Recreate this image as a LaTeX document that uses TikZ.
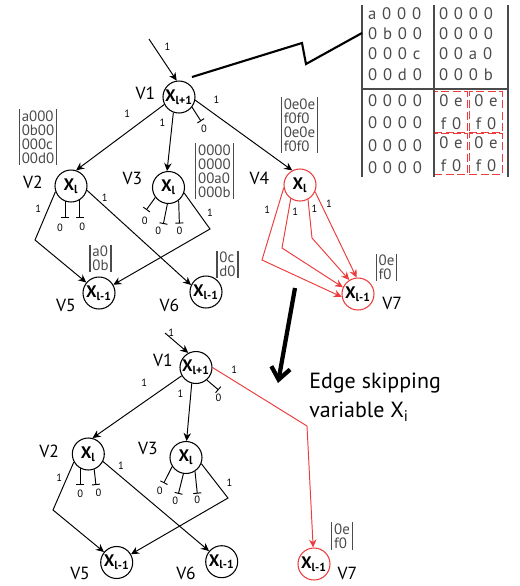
\documentclass[tikz,border=0pt]{standalone}
\usepackage{fontspec}
\setmainfont{PT Sans}
\newfontfamily\tabfont[LetterSpace=35]{PT Sans}
\usepackage{xcolor}
\usepackage{tikz}
\usetikzlibrary{arrows.meta,positioning}

\definecolor{skipred}{RGB}{236,60,60}
\definecolor{matgray}{RGB}{75,75,75}
\newcommand{\xv}[1]{\textbf{X}\textsubscript{\textbf{#1}}}

\begin{document}
\begin{tikzpicture}[
  x=0.2mm, y=-0.2mm,
  vnode/.style={draw,circle,line width=0.6pt,minimum size=6.4mm,inner sep=0pt,font=\fontsize{9.5}{10}\selectfont},
  skipnode/.style={vnode,draw=skipred},
  vlab/.style={inner sep=0pt,font=\fontsize{10}{12}\selectfont},
  elab/.style={inner sep=0.5pt,font=\fontsize{6}{7}\selectfont},
  mat/.style={inner xsep=1.2pt,inner ysep=0.5pt,align=left,text=matgray,font=\fontsize{8.5}{8}\selectfont},
  matbar/.style={draw=matgray,line width=0.7pt},
  arrow/.style={-{Stealth[length=1.6mm,width=1.5mm]}, line width=0.55pt},
  skiparrow/.style={arrow, draw=skipred},
  zero/.style={-{Bar[width=1.6mm]}, line width=0.55pt},
  tabtext/.style={inner sep=0pt,align=left,text=matgray,font=\tabfont\fontsize{9.5}{11.5}\selectfont},
  dbox/.style={draw=skipred,dash pattern=on 1.6mm off 0.7mm,line width=0.8pt,minimum width=6.6mm,minimum height=8.2mm,inner sep=0pt,align=center,text=matgray,font=\tabfont\fontsize{9.5}{13}\selectfont},
  tabline/.style={draw=matgray,line width=0.7pt},
  zig/.style={line width=1.2pt},
  bigarrow/.style={-{Straight Barb[length=2.4mm,width=3.8mm]}, line width=0.85mm},
  note/.style={inner sep=0pt,align=left,font=\fontsize{12.5}{17}\selectfont}
]
\useasboundingbox (0,0) rectangle (520,586);

% the table
\node[tabtext] (qa) at (395,44) {a000\\0b00\\000c\\00d0};
\node[tabtext] (qb) at (466,44) {0000\\0000\\00a0\\000b};
\node[tabtext, font=\tabfont\fontsize{9.5}{12.7}\selectfont] (qc) at (395,134) {0000\\0000\\0000\\0000};
\node[dbox] (qd1) at (451,112) {0e\\f0};
\node[dbox] (qd2) at (486,112) {0e\\f0};
\node[dbox] (qd3) at (451,154) {0e\\f0};
\node[dbox] (qd4) at (486,154) {0e\\f0};
\draw[tabline] (362,5) -- (362,177) (434,5) -- (434,177) (508,5) -- (508,177) (362,89) -- (508,89);

% upper diagram
\node[vnode] (t1) at (179,97) {\xv{l+1}};
\node[vnode] (t2) at (71,186) {\xv{l}};
\node[vnode] (t3) at (168.5,187.5) {\xv{l}};
\node[skipnode] (t4) at (300,185) {\xv{l}};
\node[vnode] (t5) at (99,293) {\xv{l-1}};
\node[vnode] (t6) at (206,292) {\xv{l-1}};
\node[skipnode] (t7) at (358,294) {\xv{l-1}};

\node[vlab, left=1.4mm of t1, yshift=0.8mm] (t1l) {V1};
\node[vlab, left=2.3mm of t2, yshift=0.8mm] (t2l) {V2};
\node[vlab, left=1.9mm of t3, yshift=1.9mm] (t3l) {V3};
\node[vlab, left=2.8mm of t4, yshift=1.4mm] (t4l) {V4};
\node[vlab, left=1.3mm of t5, yshift=-2.4mm] (t5l) {V5};
\node[vlab, left=2mm of t6, yshift=-2.6mm] (t6l) {V6};
\node[vlab, right=1.5mm of t7, yshift=-1.8mm] (t7l) {V7};

\node[mat] (t2m) at (38,137) {a000\\0b00\\000c\\00d0};
\node[mat] (t3m) at (214.5,171) {0000\\0000\\00a0\\000b};
\node[mat] (t4m) at (299.5,125) {0e0e\\f0f0\\0e0e\\f0f0};
\node[mat] (t5m) at (100.5,258.5) {a0\\0b};
\node[mat] (t6m) at (227.5,264.5) {0c\\d0};
\node[mat] (t7m) at (386.5,267.5) {0e\\f0};

\coordinate (tin) at (149,39);
\draw[arrow] (tin) -- node[elab,pos=0.19,right=1.8mm]{1} (t1.98);
\draw[arrow] (t1.-153) -- node[elab,pos=0.42,above=2.7mm]{1} (t2.72);
\draw[arrow] (t1.-110) -- node[elab,pos=0.17,left=1.1mm]{1} (t3.95);
\draw[arrow] (t1.-11) -- node[elab,pos=0.22,above=2.2mm]{1} (t4.118);
\draw[zero] (t1.-38) -- ++(9,14) node[elab,below=0.4mm,xshift=0.6mm]{0};

\draw[arrow] (t2.-160) -- node[elab,pos=0.36,left=1.1mm]{1} (35,240) -- (t5);
\draw[arrow] (t2.-15) -- node[elab,pos=0.17,above=0.7mm]{1} (t6.155);
\draw[zero] (t2.-111) -- ++(0,17) node[elab,below=0.8mm,xshift=-1mm]{0};
\draw[zero] (t2.-58) -- ++(0,18) node[elab,below=0.8mm,xshift=0.5mm]{0};

\draw[arrow] (t3.-19) -- node[elab,pos=0.55,right=1.5mm]{1} (210,229) -- (t5);
\draw[zero] (t3.-143) -- ++(-9,12.5) node[elab,below=1.2mm,xshift=-0.3mm]{0};
\draw[zero] (t3.-94) -- ++(-4,20) node[elab,below=0.4mm,xshift=-1mm]{0};
\draw[zero] (t3.-52) -- ++(0.7,23) node[elab,below=0.4mm]{0};

\draw[skiparrow] (t4.-170) -- node[elab,pos=0.3,left=1.15mm]{1} (262,260) -- (t7.190);
\draw[skiparrow] (t4.-124) -- node[elab,pos=0.27,right=0.5mm]{1} (282,248) -- (t7.156);
\draw[skiparrow] (t4.-61) -- node[elab,pos=0.23,right=0.25mm]{1} (312,238) -- (t7.122);
\draw[skiparrow] (t4.-24) -- node[elab,pos=0.14,right=0.75mm]{1} (t7.95);

% pointer to the table, and the step down
\coordinate (zs) at (192,77);
\coordinate (ze) at (362,33);
\draw[zig] (zs) -- (302,43) -- (306,64) -- (ze);
\coordinate (ms) at (295,288);
\coordinate (me) at (278,383);
\draw[bigarrow] (ms) -- (me);
\node[note, anchor=west] (skipnote) at (309,397) {Edge skipping\\variable X\textsubscript{i}};

% lower diagram
\node[vnode] (b1) at (196,367.5) {\xv{l+1}};
\node[vnode] (b2) at (88.3,454) {\xv{l}};
\node[vnode] (b3) at (186,457.5) {\xv{l}};
\node[vnode] (b5) at (116.7,562.5) {\xv{l-1}};
\node[vnode] (b6) at (221.7,561.7) {\xv{l-1}};
\node[skipnode] (b7) at (314,564) {\xv{l-1}};

\node[vlab, left=1.3mm of b1, yshift=1.5mm] (b1l) {V1};
\node[vlab, left=2.5mm of b2, yshift=0.5mm] (b2l) {V2};
\node[vlab, left=2.3mm of b3, yshift=1.8mm] (b3l) {V3};
\node[vlab, left=2mm of b5, yshift=-2.2mm] (b5l) {V5};
\node[vlab, left=1.8mm of b6, yshift=-2.3mm] (b6l) {V6};
\node[vlab, right=1.35mm of b7, yshift=-1.9mm] (b7l) {V7};

\node[mat] (b7m) at (342,536) {0e\\f0};

\foreach \m in {t2m,t3m,t4m,t5m,t6m,t7m,b7m}
  \draw[matbar] (\m.north west) -- (\m.south west) (\m.north east) -- (\m.south east);

\coordinate (bin) at (165,333);
\draw[arrow] (bin) -- node[elab,pos=0,right=0.4mm]{1} (b1.118);
\draw[arrow] (b1.-150) -- node[elab,pos=0.42,above=2.9mm]{1} (b2.75);
\draw[arrow] (b1.-105) -- node[elab,pos=0.18,left=1.2mm]{1} (b3.88);
\draw[zero] (b1.-49) -- ++(11.7,10) node[elab,below=0.5mm]{0};
\draw[skiparrow] (b1.east) -- node[elab,pos=0.23,above=1.3mm]{1} (307,426) -- (b7);

\draw[arrow] (b2.-151) -- node[elab,pos=0.32,left=0.75mm]{1} (53,510) -- (b5);
\draw[arrow] (b2.-27) -- node[elab,pos=0.17,above=1.25mm]{1} (b6);
\draw[zero] (b2.-119) -- ++(0,16.6) node[elab,below=0.75mm]{0};
\draw[zero] (b2.-69) -- ++(1.7,15.6) node[elab,below=0.6mm,xshift=0.5mm]{0};

\draw[arrow] (b3.-22) -- node[elab,pos=0.55,right=1.85mm]{1} (228,498) -- (b5);
\draw[zero] (b3.-147) -- ++(-8.4,16.6) node[elab,below=0.55mm,xshift=-0.8mm]{0};
\draw[zero] (b3.-99) -- ++(-5,20) node[elab,below=0.4mm,xshift=-0.65mm]{0};
\draw[zero] (b3.-57) -- ++(2.3,22.3) node[elab,below=0.25mm]{0};
\end{tikzpicture}
\end{document}
